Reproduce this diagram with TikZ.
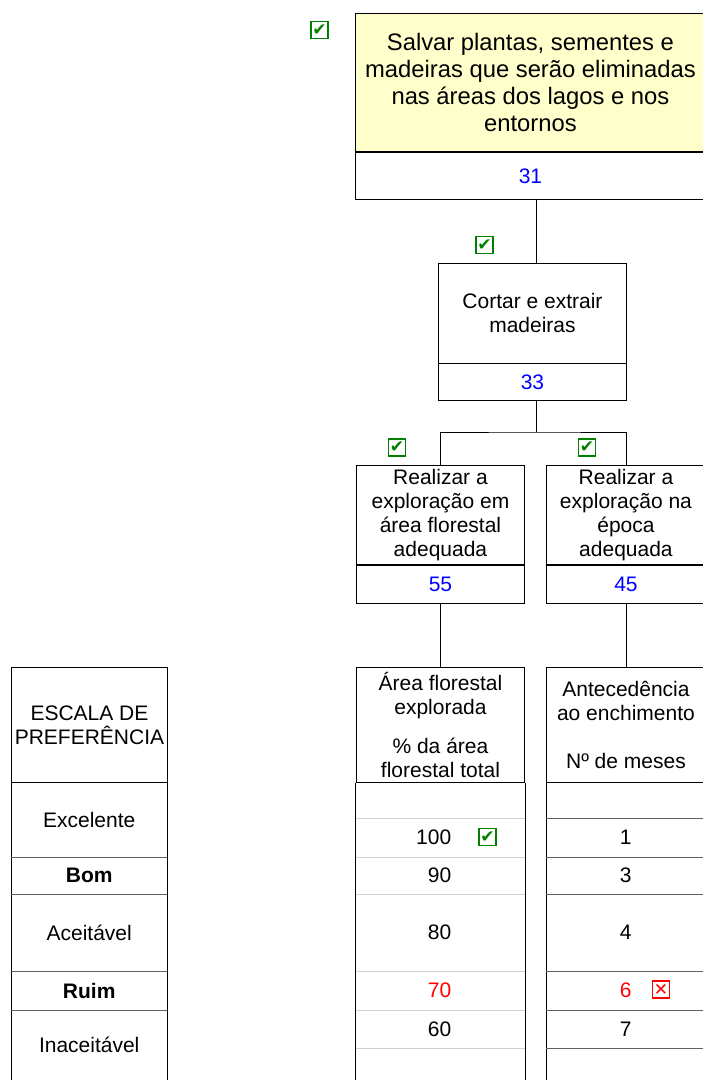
\documentclass[tikz,border=0pt]{standalone}
\usepackage{fontspec}
\setmainfont{Liberation Sans}
\newfontfamily\symbfont{DejaVu Sans}
\usetikzlibrary{positioning}
\newcommand\bodyfont{\fontsize{21}{24}\selectfont}
\newcommand\bigfont{\fontsize{23.8}{27}\selectfont}
\newcommand\markfont{\symbfont\fontsize{17}{17}\selectfont}
\definecolor{goalyellow}{HTML}{FFFFCC}
\definecolor{numblue}{HTML}{0000FF}
\definecolor{badred}{HTML}{FF0000}
\definecolor{okgreen}{HTML}{008000}
\tikzset{
	goalbox/.style={rectangle, draw=black, line width=0.9pt, fill=goalyellow, anchor=north west,
		inner sep=0pt, align=center, minimum width=350pt, minimum height=138pt, font=\bigfont},
	subbox/.style={rectangle, draw=black, line width=0.9pt, anchor=north west,
		inner sep=0pt, align=center, font=\bodyfont},
	numbox/.style={rectangle, draw=black, line width=0.9pt, inner sep=0pt, font=\bodyfont, text=numblue},
	hdrbox/.style={rectangle, draw=black, line width=0.9pt, anchor=north west,
		inner sep=0pt, align=center, minimum height=115pt, font=\bodyfont},
	cell/.style={rectangle, anchor=north west, inner sep=0pt, align=center, font=\bodyfont},
	numcell/.style={rectangle, anchor=north west, inner sep=0pt, text width=95.3pt, align=right, font=\bodyfont},
	tick/.style={rectangle, draw=okgreen, line width=1.8pt, minimum size=17pt, inner sep=0pt,
		font=\markfont, text=okgreen},
	crossmark/.style={rectangle, draw=badred, line width=1.5pt, minimum size=17pt, inner sep=0pt,
		font=\markfont, text=badred},
	link/.style={line width=0.9pt},
	darkrow/.style={line width=1.8pt, draw=black!62},
	lightrow/.style={line width=1.8pt, draw=gray!35},
}
\begin{document}
\begin{tikzpicture}[x=1pt, y=-1pt]
	\useasboundingbox (0,0) rectangle (703,1080);
	% tree of objectives
	\node[goalbox](t31) at (355,13) {Salvar plantas, sementes e\\madeiras que serão eliminadas\\nas áreas dos lagos e nos\\entornos};
	\node[numbox, minimum width=350pt, minimum height=47pt, below=0pt of t31](n31){31};
	\node[subbox, minimum width=188pt, minimum height=99.5pt](t33) at (438,263) {Cortar e extrair\\madeiras};
	\node[numbox, minimum width=188pt, minimum height=37pt, below=0pt of t33](n33){33};
	\node[subbox, minimum width=168.6pt, minimum height=99pt](t55) at (355.7,465) {Realizar a\\exploração em\\área florestal\\adequada};
	\node[numbox, minimum width=168.6pt, minimum height=38pt, below=0pt of t55](n55){55};
	\node[subbox, minimum width=159pt, minimum height=99pt](t45) at (546,465) {Realizar a\\exploração na\\época\\adequada};
	\node[numbox, minimum width=159pt, minimum height=38pt, below=0pt of t45](n45){45};
	\node[tick](ok31) at (319.5,30) {✔};
	\node[tick](ok33) at (484.5,245) {✔};
	\node[tick](ok55) at (397,447.5) {✔};
	\node[tick](ok45) at (587,447.5) {✔};
	\coordinate (j0) at (536,0);
	\coordinate (j1) at (536,432);
	\coordinate (floor) at (0,1086);
	\draw[link](n31.south -| j0)--(t33.north -| j0);
	\draw[link](n33.south -| j1)--(j1);
	\draw[link](t55.north) |- (j1) -| (t45.north);
	% preference scale
	\node[hdrbox, minimum width=156pt](escala) at (11,667) {ESCALA DE\\PREFERÊNCIA};
	\node[cell, minimum width=156pt, minimum height=75pt](excelente) at (11,782) {Excelente};
	\node[cell, minimum width=156pt, minimum height=37pt](bom) at (11,857) {\textbf{Bom}};
	\node[cell, minimum width=156pt, minimum height=77pt](aceitavel) at (11,894) {Aceitável};
	\node[cell, minimum width=156pt, minimum height=39pt](ruim) at (11,971) {\textbf{Ruim}};
	\node[cell, minimum width=156pt, minimum height=70pt](inaceitavel) at (11,1010) {Inaceitável};
	\draw[link](escala.south west)--(escala.south west |- floor);
	\draw[link](escala.south east)--(escala.south east |- floor);
	\draw[darkrow](excelente.south west)--(excelente.south east);
	\draw[darkrow](bom.south west)--(bom.south east);
	\draw[darkrow](aceitavel.south west)--(aceitavel.south east);
	\draw[darkrow](ruim.south west)--(ruim.south east);
	% descriptor: area
	\node[hdrbox, minimum width=168.6pt](area) at (355.7,667) {Área florestal\\explorada\\[15pt]\% da área\\florestal total};
	\node[numcell, minimum height=36pt](m0) at (355.7,782) {};
	\node[numcell, minimum height=39pt](m100) at (355.7,818) {100};
	\node[numcell, minimum height=37pt](m90) at (355.7,857) {90};
	\node[numcell, minimum height=77pt](m80) at (355.7,894) {80};
	\node[numcell, minimum height=39pt, text=badred](m70) at (355.7,971) {70};
	\node[numcell, minimum height=38pt](m60) at (355.7,1010) {60};
	\node[tick](ok100) at (487.5,837) {✔};
	\draw[link](n55.south)--(area.north);
	\draw[link](area.south west)--(area.south west |- floor);
	\draw[link](area.south east)--(area.south east |- floor);
	\draw[lightrow](m0.south west)--(m0.south west -| area.east);
	\draw[lightrow](m100.south west)--(m100.south west -| area.east);
	\draw[lightrow](m90.south west)--(m90.south west -| area.east);
	\draw[lightrow](m80.south west)--(m80.south west -| area.east);
	\draw[lightrow](m70.south west)--(m70.south west -| area.east);
	\draw[lightrow](m60.south west)--(m60.south west -| area.east);
	% descriptor: months
	\node[hdrbox, minimum width=159pt](antec) at (546,667) {Antecedência\\ao enchimento\\[24pt]Nº de meses};
	\node[cell, minimum width=159pt, minimum height=36pt](r0) at (546,782) {};
	\node[cell, minimum width=159pt, minimum height=39pt](r1) at (546,818) {1};
	\node[cell, minimum width=159pt, minimum height=37pt](r3) at (546,857) {3};
	\node[cell, minimum width=159pt, minimum height=77pt](r4) at (546,894) {4};
	\node[cell, minimum width=159pt, minimum height=39pt, text=badred](r6) at (546,971) {6};
	\node[cell, minimum width=159pt, minimum height=38pt](r7) at (546,1010) {7};
	\node[crossmark](no6) at (661,989.5) {✕};
	\draw[link](n45.south)--(antec.north);
	\draw[link](antec.south west)--(antec.south west |- floor);
	\draw[darkrow](r0.south west)--(r0.south east);
	\draw[darkrow](r1.south west)--(r1.south east);
	\draw[darkrow](r3.south west)--(r3.south east);
	\draw[darkrow](r4.south west)--(r4.south east);
	\draw[darkrow](r6.south west)--(r6.south east);
	\draw[darkrow](r7.south west)--(r7.south east);
\end{tikzpicture}
\end{document}
